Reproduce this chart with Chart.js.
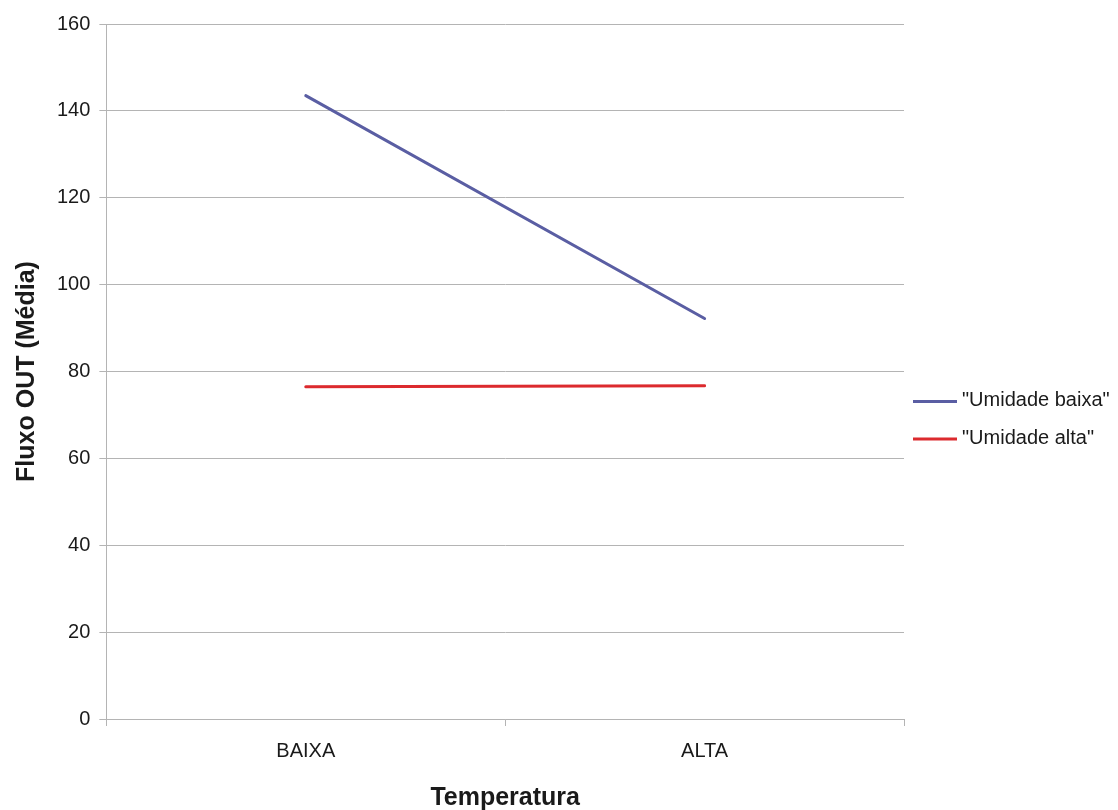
<!DOCTYPE html>
<html>
<head>
<meta charset="utf-8">
<title>Fluxo OUT (Média)</title>
<script src="https://cdn.jsdelivr.net/npm/chart.js@4.4.1/dist/chart.umd.min.js"></script>
<style>
  html, body { margin: 0; padding: 0; background: #fff; }
  canvas { display: block; }
</style>
</head>
<body>
<canvas id="grafico" width="1118" height="810"></canvas>
<script>
const categorias = ['BAIXA', 'ALTA'];
const umidadeBaixa = [143.5, 92.2];
const umidadeAlta = [76.5, 76.7];
const nomesSeries = ['"Umidade baixa"', '"Umidade alta"'];
const yMin = 0, yMax = 160, yPasso = 20;

const fonte = '"Liberation Sans", Arial, sans-serif';
const corGrade = '#b4b4b4';
const corTexto = '#1a1a1a';

Chart.defaults.font.family = fonte;

// legenda à direita, alinhada ao meio da área de plotagem
const legendaLateral = {
  id: 'legendaLateral',
  afterDraw(chart) {
    const ctx = chart.ctx;
    const area = chart.chartArea;
    const x = area.right + 9;
    let y = (area.top + area.bottom) / 2 + 30;
    ctx.save();
    ctx.font = '20px ' + fonte;
    ctx.textBaseline = 'middle';
    ctx.textAlign = 'left';
    chart.data.datasets.forEach(ds => {
      ctx.strokeStyle = ds.borderColor;
      ctx.lineWidth = 3;
      ctx.beginPath();
      ctx.moveTo(x, y);
      ctx.lineTo(x + 44, y);
      ctx.stroke();
      ctx.fillStyle = corTexto;
      ctx.fillText(ds.label, x + 49, y - 1);
      y += 37.5;
    });
    ctx.restore();
  }
};

const ctx = document.getElementById('grafico').getContext('2d');
new Chart(ctx, {
  type: 'line',
  data: {
    labels: categorias,
    datasets: [
      {
        label: nomesSeries[0],
        data: umidadeBaixa,
        borderColor: '#5a5ea3',
        backgroundColor: '#5a5ea3'
      },
      {
        label: nomesSeries[1],
        data: umidadeAlta,
        borderColor: '#dc2a2e',
        backgroundColor: '#dc2a2e'
      }
    ]
  },
  options: {
    responsive: false,
    animation: false,
    layout: { padding: { left: 4, top: 24, right: 214, bottom: 0 } },
    elements: {
      line: { tension: 0, borderWidth: 3, borderCapStyle: 'round' },
      point: { radius: 0, hoverRadius: 0 }
    },
    plugins: {
      legend: { display: false },
      tooltip: { enabled: false }
    },
    scales: {
      x: {
        offset: true,
        grid: { offset: true, drawOnChartArea: false, tickLength: 7, color: corGrade },
        border: { color: corGrade },
        ticks: { font: { size: 20 }, color: corTexto, padding: 13 },
        title: {
          display: true,
          text: 'Temperatura',
          font: { size: 25, weight: 'bold' },
          color: corTexto,
          padding: { top: 7, bottom: -3 }
        }
      },
      y: {
        min: yMin,
        max: yMax,
        grid: { color: corGrade, tickLength: 7 },
        border: { color: corGrade },
        ticks: { stepSize: yPasso, font: { size: 20 }, color: corTexto, padding: 9 },
        title: {
          display: true,
          text: 'Fluxo OUT (Média)',
          font: { size: 25, weight: 'bold' },
          color: corTexto,
          padding: { top: 8, bottom: 6 }
        }
      }
    }
  },
  plugins: [legendaLateral]
});
</script>
</body>
</html>
